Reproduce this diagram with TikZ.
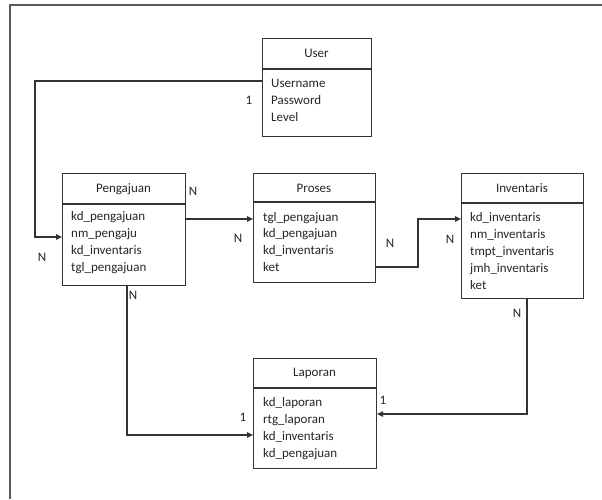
\documentclass[tikz,border=0pt]{standalone}
\usepackage{fontspec}
\setmainfont{Carlito}
\usetikzlibrary{arrows.meta}
\begin{document}
\begin{tikzpicture}[x=1pt,y=-1pt,
  ebox/.style={draw=black!80,line width=1.1pt,rectangle,anchor=north west,inner sep=0pt},
  div/.style={draw=black!80,line width=1.1pt},
  ttl/.style={anchor=base,inner sep=0pt,font=\fontsize{13}{16}\selectfont,text=black!85},
  fld/.style={anchor=base west,inner sep=0pt,font=\fontsize{13}{16}\selectfont,text=black!85},
  lbl/.style={inner sep=0pt,font=\fontsize{13}{16}\selectfont,text=black!85},
  con/.style={draw=black!80,line width=1.1pt},
  arr/.style={con,-{Triangle[length=6pt,width=5.5pt]}},
  frame/.style={draw=black!65,line width=1.6pt}]
\useasboundingbox (0,0) rectangle (602,499);
\fill[white] (0,0) rectangle (602,499);
\draw[frame] (10,499) -- (10,5) -- (602,5);

% User
\node[ebox,minimum width=109pt,minimum height=98pt] (user) at (262,38) {};
\draw[div] (262,69) -- (371,69);
\node[ttl] (user-t) at (316.5,57) {User};
\foreach \t [count=\i] in {Username,Password,Level}
  \node[fld] (user-f\i) at (271,{87+(\i-1)*17.2}) {\t};

% Pengajuan
\node[ebox,minimum width=123pt,minimum height=112pt] (peng) at (62,173) {};
\draw[div] (62,204) -- (185,204);
\node[ttl] (peng-t) at (123.5,192.5) {Pengajuan};
\foreach \t [count=\i] in {kd\_pengajuan,nm\_pengaju,kd\_inventaris,tgl\_pengajuan}
  \node[fld] (peng-f\i) at (71,{220+(\i-1)*17.3}) {\t};

% Proses
\node[ebox,minimum width=122pt,minimum height=109pt] (pros) at (253,173) {};
\draw[div] (253,202) -- (375,202);
\node[ttl] (pros-t) at (314,192) {Proses};
\foreach \t [count=\i] in {tgl\_pengajuan,kd\_pengajuan,kd\_inventaris,ket}
  \node[fld] (pros-f\i) at (263,{221+(\i-1)*16.8}) {\t};

% Inventaris
\node[ebox,minimum width=122pt,minimum height=125pt] (inv) at (461,173) {};
\draw[div] (461,203) -- (583,203);
\node[ttl] (inv-t) at (522,192) {Inventaris};
\foreach \t [count=\i] in {kd\_inventaris,nm\_inventaris,tmpt\_inventaris,jmh\_inventaris,ket}
  \node[fld] (inv-f\i) at (470,{221+(\i-1)*17.2}) {\t};

% Laporan
\node[ebox,minimum width=123pt,minimum height=110pt] (lap) at (253,358) {};
\draw[div] (253,388) -- (376,388);
\node[ttl] (lap-t) at (314.5,376.5) {Laporan};
\foreach \t [count=\i] in {kd\_laporan,rtg\_laporan,kd\_inventaris,kd\_pengajuan}
  \node[fld] (lap-f\i) at (263,{406+(\i-1)*17.1}) {\t};

% bend points
\coordinate (b1) at (35,81);
\coordinate (b2) at (35,237);
\coordinate (b3) at (418,267);
\coordinate (b4) at (418,219);
\coordinate (b5) at (527,414);
\coordinate (b6) at (127,435);

% connectors
\draw[arr] (user.west |- b1) -- (b1) -- (b2) -- (peng.west |- b2);
\draw[arr] (peng.east |- b4) -- (pros.west |- b4);
\draw[arr] (pros.east |- b3) -- (b3) -- (b4) -- (inv.west |- b4);
\draw[arr] (inv.south -| b5) -- (b5) -- (lap.east |- b5);
\draw[arr] (peng.south -| b6) -- (b6) -- (lap.west |- b6);

% cardinality labels
\node[lbl] (l1) at (249,100) {1};
\node[lbl] (l2) at (42,257) {N};
\node[lbl] (l3) at (193,191) {N};
\node[lbl] (l4) at (238,238) {N};
\node[lbl] (l5) at (390,243) {N};
\node[lbl] (l6) at (450,239) {N};
\node[lbl] (l7) at (517,313) {N};
\node[lbl] (l8) at (383,400) {1};
\node[lbl] (l9) at (133,295) {N};
\node[lbl] (l10) at (243,417) {1};
\end{tikzpicture}
\end{document}
